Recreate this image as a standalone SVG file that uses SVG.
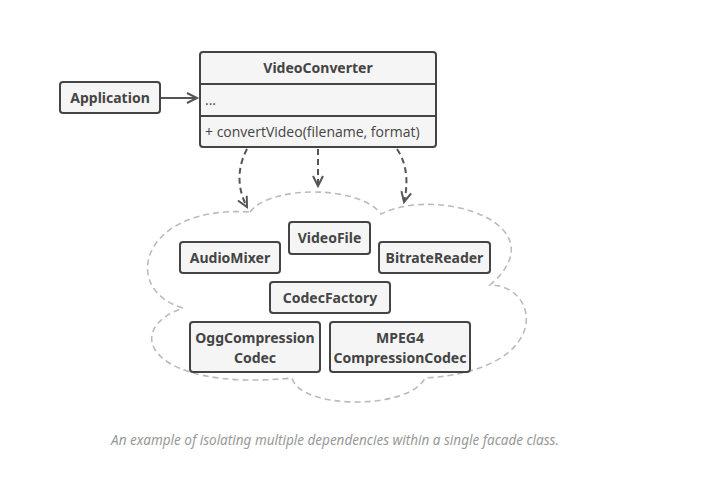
<svg xmlns="http://www.w3.org/2000/svg" width="711" height="481" viewBox="0 0 711 481">
<style>
.box{fill:#f5f5f5;stroke:#444;stroke-width:2}
.lbl{font-family:"Noto Sans","Open Sans",sans-serif;font-weight:bold;font-size:14px;fill:#444;text-anchor:middle}
.txt{font-family:"Open Sans","Noto Sans",sans-serif;font-size:14px;fill:#444}
.dep{fill:none;stroke:#555;stroke-width:2;stroke-dasharray:6,4}
.cloud{fill:none;stroke:#bbb;stroke-width:1.6;stroke-dasharray:6,4}
.cap{font-family:"Noto Sans","Open Sans",sans-serif;font-style:italic;font-size:13.5px;fill:#999;text-anchor:middle}
</style>
<defs>
<marker id="open" markerWidth="14" markerHeight="14" refX="11" refY="6" orient="auto" markerUnits="userSpaceOnUse">
<path d="M1,1 L11,6 L1,11" fill="none" stroke="#555" stroke-width="2"/>
</marker>
</defs>
<rect width="711" height="481" fill="#fff"/>
<path class="cloud" d="M250,212 C270,185 360,185 381,214 C440,185 560,225 490,285 C540,285 555,370 425,378 C410,410 300,410 292,378 C150,392 120,330 183,308 C120,290 140,205 250,212 Z"/>
<g id="connectors">
<line x1="160" y1="98" x2="197" y2="98" stroke="#555" stroke-width="2" marker-end="url(#open)"/>
<path class="dep" d="M247,149 C236,170 238,190 247,207" marker-end="url(#open)"/>
<path class="dep" d="M318,149 L318,186" marker-end="url(#open)"/>
<path class="dep" d="M397,149 C408,165 408,185 404,202" marker-end="url(#open)"/>
</g>
<g id="application">
<rect class="box" x="60" y="82" width="100" height="31" rx="3"/>
<text class="lbl" x="110" y="103">Application</text>
</g>
<g id="videoconverter">
<rect class="box" x="200" y="52" width="236" height="95" rx="3"/>
<line x1="200" y1="84" x2="436" y2="84" stroke="#444" stroke-width="2"/>
<line x1="200" y1="116" x2="436" y2="116" stroke="#444" stroke-width="2"/>
<text class="lbl" x="318" y="73">VideoConverter</text>
<text class="txt" x="205" y="105">...</text>
<text class="txt" x="205" y="137">+ convertVideo(filename, format)</text>
</g>
<g id="audiomixer">
<rect class="box" x="180" y="242" width="100" height="31" rx="3"/>
<text class="lbl" x="230" y="263">AudioMixer</text>
</g>
<g id="videofile">
<rect class="box" x="289" y="222" width="81" height="32" rx="3"/>
<text class="lbl" x="329.5" y="243">VideoFile</text>
</g>
<g id="bitratereader">
<rect class="box" x="379" y="242" width="111" height="31" rx="3"/>
<text class="lbl" x="434.5" y="263">BitrateReader</text>
</g>
<g id="codecfactory">
<rect class="box" x="270" y="282" width="120" height="31" rx="3"/>
<text class="lbl" x="330" y="303">CodecFactory</text>
</g>
<g id="oggcodec">
<rect class="box" x="190" y="322" width="130" height="50" rx="3"/>
<text class="lbl" x="255" y="343">OggCompression</text>
<text class="lbl" x="255" y="363">Codec</text>
</g>
<g id="mpeg4codec">
<rect class="box" x="330" y="322" width="140" height="50" rx="3"/>
<text class="lbl" x="400" y="343">MPEG4</text>
<text class="lbl" x="400" y="363">CompressionCodec</text>
</g>
<text class="cap" x="335" y="445">An example of isolating multiple dependencies within a single facade class.</text>
</svg>
